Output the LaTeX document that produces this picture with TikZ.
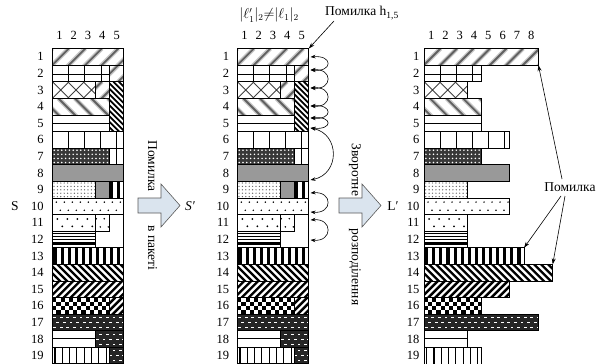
\documentclass[tikz,border=0pt]{standalone}
\usepackage{fontspec}
\setmainfont{Liberation Serif}
\usetikzlibrary{arrows.meta}
\def\rt{48.5}
\def\rh{16.6}
\def\cw{14.3}
\def\gA{52.3}
\def\gB{237.3}
\def\gC{424}
% ---- fill patterns (local coords: u from grid left, v down from segment top)
\newcommand\patA{\foreach \t in {-60,-43.5,...,140}{%
  \draw[line width=4.4pt,black!22] (\t,60) -- ++(60,-60);
  \draw[line width=1.8pt,black!62] (\t,60) -- ++(60,-60);}}
\newcommand\patE{\foreach \t in {-60,-43.5,...,140}{%
  \draw[line width=4.4pt,black!22] (\t,0) -- ++(60,60);
  \draw[line width=1.8pt,black!62] (\t,0) -- ++(60,60);}}
\newcommand\patD{\foreach \t in {-60,-54.5,...,80}{\draw[line width=1.8pt] (\t,0) -- ++(60,60);}}
\newcommand\patC{\foreach \t in {-58.7,-43.3,...,90}{\draw[line width=0.9pt,black!75] (\t,60)--++(60,-60) (\t+43.4,0)--++(60,60);}}
\newcommand\patB{\foreach \u in {16.3,32.6,...,135}{\draw[line width=0.9pt] (\u,0)--(\u,20);}\draw[line width=0.9pt] (0,9.6)--(140,9.6);}
\newcommand\patG{\foreach \u in {16,32,...,135}{\draw[line width=0.9pt] (\u,0)--(\u,20);}}
\newcommand\patF{\draw[line width=0.9pt] (0,8.1)--(140,8.1);}
\newcommand\patH{\fill[black!78] (0,0) rectangle (140,20);
  \foreach \u in {1.9,5.7,...,75}{\foreach \v in {2.1,6.2,...,17}{\fill[white] (\u,\v) circle (0.85);}}}
\newcommand\patI{\fill[black!40] (0,0) rectangle (140,20);}
\newcommand\patJ{\foreach \u in {1.7,5.1,...,75}{\foreach \v in {1.7,5.1,...,17}{\fill[black!60] (\u,\v) circle (0.7);}}}
\newcommand\patK{\foreach \u in {2.7,9.8,...,135}{\fill (\u-1.55,0) rectangle (\u+1.55,20);}}
\newcommand\patL{\foreach \u in {4,12,...,90}{\fill (\u,4.2) circle (0.85); \fill (\u+4,12.4) circle (0.85);}}
\newcommand\patM{\foreach \u in {5,15,...,75}{\fill (\u,4.5) circle (1); \fill (\u+5,11.8) circle (1);}}
\newcommand\patN{\draw[line width=0.8pt] (0,2.2)--(140,2.2) (0,5.4)--(140,5.4) (0,8.6)--(140,8.6); \fill (0,11.2) rectangle (140,14.2);}
\newcommand\patO{\foreach \t in {-30,-23,...,135}{\draw[line width=2.4pt] (\t,0)--++(30,30);}}
\newcommand\patP{\foreach \t in {-30,-23,...,135}{\draw[line width=2.4pt] (\t,30)--++(30,-30);}}
\newcommand\patQ{\foreach \u in {0,8.3,...,75}{\foreach \v in {0,8.3}{\fill (\u,\v) rectangle ++(4.15,4.15); \fill (\u+4.15,\v+4.15) rectangle ++(4.15,4.15);}}}
\newcommand\patR{\fill[black!85] (0,0) rectangle (140,20);
  \foreach \u in {0,6.6,...,120}{\fill[white] (\u+0.8,2.8) rectangle ++(2.8,1.2); \fill[white] (\u+4.1,7.8) rectangle ++(2.8,1.2); \fill[white] (\u+0.8,12.8) rectangle ++(2.8,1.2);}}
\newcommand\patT{\foreach \u in {2.7,10,...,135}{\draw[line width=1.1pt] (\u,0)--(\u,20);}}
% ---- one segment: grid x, row, col from, col to, pattern, number of rows
\newcommand\seg[6]{%
  \pgfmathsetmacro\sxa{#1+#3*\cw}%
  \pgfmathsetmacro\sxb{#1+#4*\cw}%
  \pgfmathsetmacro\sya{\rt+(#2-1)*\rh}%
  \pgfmathsetmacro\syb{\sya+#6*\rh}%
  \begin{scope}
    \clip (\sxa,\sya) rectangle (\sxb,\syb);
    \begin{scope}[shift={(#1,\sya)}]
      \csname pat#5\endcsname
    \end{scope}
  \end{scope}
  \draw[segline] (\sxa,\sya) rectangle (\sxb,\syb);
}
\newcommand\sgrid[1]{%
 \seg{#1}{1}{0}{5}{A}{1}
 \seg{#1}{2}{0}{4}{B}{1}
 \seg{#1}{2}{4}{5}{A}{1}
 \seg{#1}{3}{0}{3}{C}{1}
 \seg{#1}{3}{3}{4}{A}{1}
 \seg{#1}{3}{4}{5}{D}{3}
 \seg{#1}{4}{0}{4}{E}{1}
 \seg{#1}{5}{0}{4}{F}{1}
 \seg{#1}{6}{0}{5}{G}{1}
 \seg{#1}{7}{0}{4}{H}{1}
 \seg{#1}{7}{4}{5}{G}{1}
 \seg{#1}{8}{0}{5}{I}{1}
 \seg{#1}{9}{0}{3}{J}{1}
 \seg{#1}{9}{3}{4}{I}{1}
 \seg{#1}{9}{4}{5}{K}{1}
 \seg{#1}{10}{0}{5}{L}{1}
 \seg{#1}{11}{0}{3}{M}{1}
 \seg{#1}{11}{3}{4}{L}{1}
 \seg{#1}{12}{0}{3}{N}{1}
 \seg{#1}{13}{0}{5}{K}{1}
 \seg{#1}{14}{0}{5}{O}{1}
 \seg{#1}{15}{0}{5}{P}{1}
 \seg{#1}{16}{0}{4}{Q}{1}
 \seg{#1}{16}{4}{5}{P}{1}
 \seg{#1}{17}{0}{5}{R}{1}
 \seg{#1}{18}{0}{3}{F}{1}
 \seg{#1}{18}{3}{5}{R}{1}
 \seg{#1}{19}{0}{4}{T}{1}
 \seg{#1}{19}{4}{5}{R}{1}
 \draw[gridline] (#1,\rt) rectangle ({#1+5*\cw},{\rt+19*\rh});
}
\newcommand\blockarrow[1]{%
 \draw[barrow] ({#1-42},198) -- ({#1-19},198) -- ({#1-19},184) -- (#1,205.5)
   -- ({#1-19},227) -- ({#1-19},213) -- ({#1-42},213) -- cycle;}
\begin{document}
\begin{tikzpicture}[x=1pt,y=-1pt,
  segline/.style={line width=0.7pt},
  gridline/.style={line width=0.9pt},
  num/.style={font=\fontsize{12.5}{13}\selectfont, inner sep=0pt},
  lab/.style={font=\fontsize{13.5}{14}\selectfont, inner sep=0pt},
  labi/.style={font=\fontsize{13.5}{14}\selectfont\itshape, inner sep=0pt},
  barrow/.style={fill={rgb,255:red,218;green,228;blue,238}, draw=black!65, line width=0.6pt},
  ptr/.style={-{Stealth[length=6pt,width=4pt]}, line width=0.6pt},
  curv/.style={{Stealth[length=5pt,width=3.6pt]}-{Stealth[length=5pt,width=3.6pt]}, line width=0.6pt}]
\useasboundingbox (0,0) rectangle (600,364);
% grids
\sgrid{\gA}
\sgrid{\gB}
\seg{\gC}{1}{0}{8}{A}{1}
\seg{\gC}{2}{0}{4}{B}{1}
\seg{\gC}{3}{0}{3}{C}{1}
\seg{\gC}{4}{0}{4}{E}{1}
\seg{\gC}{5}{0}{4}{F}{1}
\seg{\gC}{6}{0}{6}{G}{1}
\seg{\gC}{7}{0}{4}{H}{1}
\seg{\gC}{8}{0}{6}{I}{1}
\seg{\gC}{9}{0}{3}{J}{1}
\seg{\gC}{10}{0}{6}{L}{1}
\seg{\gC}{11}{0}{3}{M}{1}
\seg{\gC}{12}{0}{3}{N}{1}
\seg{\gC}{13}{0}{7}{K}{1}
\seg{\gC}{14}{0}{9}{O}{1}
\seg{\gC}{15}{0}{6}{P}{1}
\seg{\gC}{16}{0}{4}{Q}{1}
\seg{\gC}{17}{0}{8}{R}{1}
\seg{\gC}{18}{0}{3}{F}{1}
\seg{\gC}{19}{0}{4}{T}{1}
% row and column numbers
\foreach \i in {1,...,19}{
  \node[num,anchor=east] (la\i) at ({\gA-8.5},{\rt+(\i-0.5)*\rh}) {\i};
  \node[num,anchor=east] (lb\i) at ({\gB-8},{\rt+(\i-0.5)*\rh}) {\i};
  \node[num,anchor=east] (lc\i) at ({\gC-4.5},{\rt+(\i-0.5)*\rh}) {\i};
}
\foreach \j in {1,...,5}{
  \node[num] (ha\j) at ({\gA+(\j-0.5)*\cw},35.5) {\j};
  \node[num] (hb\j) at ({\gB+(\j-0.5)*\cw},35.5) {\j};
}
\foreach \j in {1,...,8}{
  \node[num] (hc\j) at ({\gC+(\j-0.5)*\cw},35.5) {\j};
}
% block arrows
\blockarrow{180}
\blockarrow{381}
% labels
\node[lab] (S) at (15,206) {S};
\node[labi] (Sp) at (190,206) {S′};
\node[lab] (Lp) at (393,206) {L′};
\node[lab] (hdr) at (269,15) {$|\ell'_1|_2{\neq}|\ell_1|_2$};
\node[lab] (err1) at (362,13) {Помилка h\textsubscript{1,5}};
\node[lab] (err2) at (570,187) {Помилка};
\node[lab,rotate=-90] (rot1) at (152.5,166) {Помилка};
\node[lab,rotate=-90] (rot2) at (152.5,248) {в пакеті};
\node[lab,rotate=-90] (rot3) at (355,170) {Зворотне};
\node[lab,rotate=-90] (rot4) at (355,267) {розподілення};
% error pointers
\coordinate (e1s) at (334,21);
\coordinate (g2tr) at ({\gB+5*\cw},\rt);
\draw[ptr] (e1s) -- (g2tr);
\coordinate (e2a) at (562,179);
\coordinate (e2b) at (561,196);
\coordinate (e2c) at (565,196);
\coordinate (c1end) at ({\gC+8*\cw},{\rt+\rh});
\coordinate (c13end) at ({\gC+7*\cw},{\rt+12*\rh});
\coordinate (c14end) at ({\gC+9*\cw},{\rt+13*\rh});
\draw[ptr] (e2a) -- (c1end);
\draw[ptr] (e2b) -- (c13end);
\draw[ptr] (e2c) -- (c14end);
% reverse distribution arcs
\foreach \a/\b in {57/70,70/88,88/106,106/118,118/128,193/212,220/240}{
  \draw[curv] (310.5,\a) .. controls (333,\a-2) and (333,\b+2) .. (310.5,\b);
}
\draw[curv] (310.5,128) .. controls (340,134) and (340,174) .. (310.5,180);
\end{tikzpicture}
\end{document}
